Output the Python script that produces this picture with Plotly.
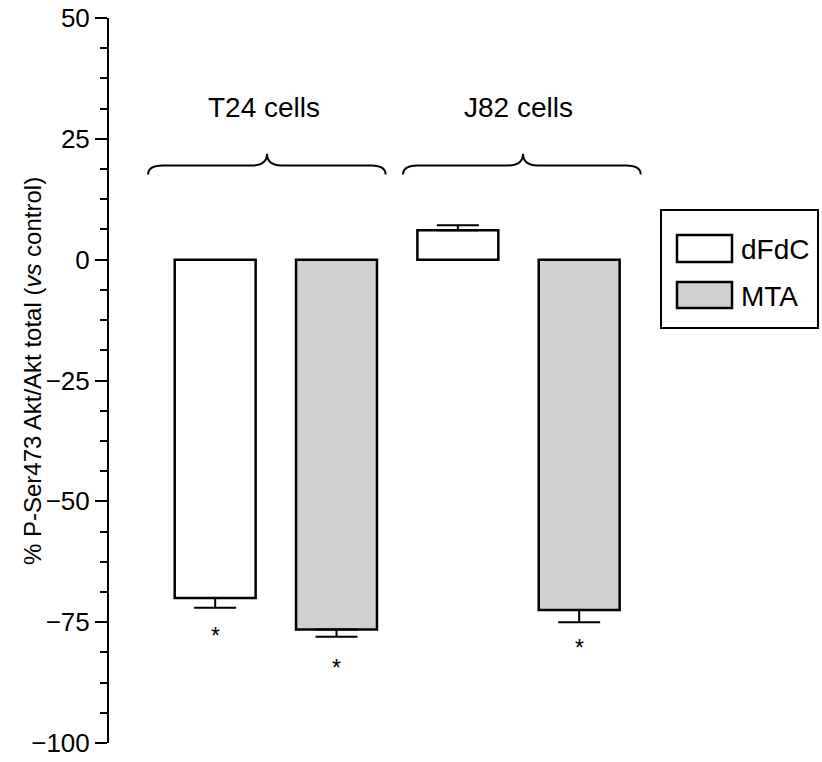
import plotly.graph_objects as go

# ---- data ----
groups = ["T24 cells", "J82 cells"]
treatments = ["dFdC", "MTA"]
bar_pos = [0, 1, 2, 3]
bar_treat = ["dFdC", "MTA", "dFdC", "MTA"]
values = [-70.0, -76.5, 6.1, -72.5]
errors = [2.0, 1.5, 1.0, 2.5]
signif = [True, True, False, True]
asterisk_y = [-73.2, -79.7, None, -75.5]
y_ticks = [-100, -75, -50, -25, 0, 25, 50]
y_title = "% P-Ser473 Akt/Akt total (<i>vs</i> control)"

fill_colors = {"dFdC": "#ffffff", "MTA": "#d0d0d0"}

FONT = "Liberation Sans, Arial, Helvetica, sans-serif"
W, H = 822, 762
ML, MR, MT, MB = 109, 170, 18, 19
PW, PH = W - ML - MR, H - MT - MB


def xp(px):
    return (px - ML) / PW


def yp(py):
    return 1 - (py - MT) / PH


fig = go.Figure()

for t in treatments:
    xs = [p for p, tt in zip(bar_pos, bar_treat) if tt == t]
    ys = [v for v, tt in zip(values, bar_treat) if tt == t]
    es = [e for e, tt in zip(errors, bar_treat) if tt == t]
    up = [e if v > 0 else 0 for v, e in zip(ys, es)]
    dn = [e if v < 0 else 0 for v, e in zip(ys, es)]
    fig.add_trace(go.Bar(
        x=xs, y=ys, width=0.667, name=t,
        marker=dict(color=fill_colors[t], line=dict(color="black", width=2.5)),
        error_y=dict(type="data", symmetric=False, array=up, arrayminus=dn,
                     color="black", thickness=2, width=21),
        showlegend=False, hoverinfo="skip",
    ))

# significance asterisks
for p, s, ay in zip(bar_pos, signif, asterisk_y):
    if s:
        fig.add_annotation(x=p, y=ay, yref="y", xref="x", text="*",
                           showarrow=False, yanchor="top", yshift=-8,
                           font=dict(family=FONT, size=23, color="black"))

# group braces and labels
brace_spans = [(-0.553, 0.427, 1.405), (1.548, 2.537, 3.507)]
label_x = [0.40, 2.50]
y_line, y_tip, y_end = 19.5, 21.9, 17.6
for (x0, xm, x1), g, lx in zip(brace_spans, groups, label_x):
    d = 0.12
    path = (f"M {x0},{y_end} Q {x0},{y_line} {x0 + d},{y_line} "
            f"L {xm - d},{y_line} Q {xm},{y_line} {xm},{y_tip} "
            f"Q {xm},{y_line} {xm + d},{y_line} "
            f"L {x1 - d},{y_line} Q {x1},{y_line} {x1},{y_end}")
    fig.add_shape(type="path", path=path, xref="x", yref="y",
                  line=dict(color="black", width=2))
    fig.add_annotation(x=lx, y=31.5, xref="x", yref="y", text=g,
                       showarrow=False,
                       font=dict(family=FONT, size=28, color="black"))

# legend (drawn manually)
fig.add_shape(type="rect", xref="paper", yref="paper",
              x0=xp(661), x1=xp(818), y0=yp(328), y1=yp(210),
              line=dict(color="black", width=2), fillcolor="white")
leg_rows = [(235, 262), (282, 308)]
for t, (top, bot) in zip(treatments, leg_rows):
    fig.add_shape(type="rect", xref="paper", yref="paper",
                  x0=xp(677), x1=xp(732), y0=yp(bot), y1=yp(top),
                  line=dict(color="black", width=2.5),
                  fillcolor=fill_colors[t])
    fig.add_annotation(x=xp(739), y=yp((top + bot) / 2 + 1), xref="paper",
                       yref="paper", text=t, showarrow=False,
                       xanchor="left", yanchor="middle",
                       font=dict(family=FONT, size=28, color="black"))

# y-axis title
fig.add_annotation(x=xp(32), y=yp(371), xref="paper", yref="paper",
                   text=y_title, textangle=-90, showarrow=False,
                   xanchor="center", yanchor="middle",
                   font=dict(family=FONT, size=24, color="black"))

fig.update_layout(
    width=W, height=H,
    margin=dict(l=ML, r=MR, t=MT, b=MB, autoexpand=False),
    plot_bgcolor="white", paper_bgcolor="white",
    barmode="overlay",
    hovermode=False,
    xaxis=dict(range=[-0.875, 3.6], visible=False, showgrid=False,
               zeroline=False),
    yaxis=dict(range=[-100, 50], tickvals=y_ticks,
               showgrid=False, zeroline=False,
               showline=True, linecolor="black", linewidth=2,
               ticks="outside", ticklen=12, tickwidth=2, tickcolor="black",
               minor=dict(ticks="outside", ticklen=7, tickwidth=2,
                          tickcolor="black", dtick=6.25, tick0=0),
               tickfont=dict(family=FONT, size=26, color="black")),
    font=dict(family=FONT, color="black"),
)

fig.write_html(
    "out.html",
    config={"displayModeBar": False, "staticPlot": True},
    post_script="document.body.style.margin='0';"
                "document.body.style.overflow='hidden';",
)
